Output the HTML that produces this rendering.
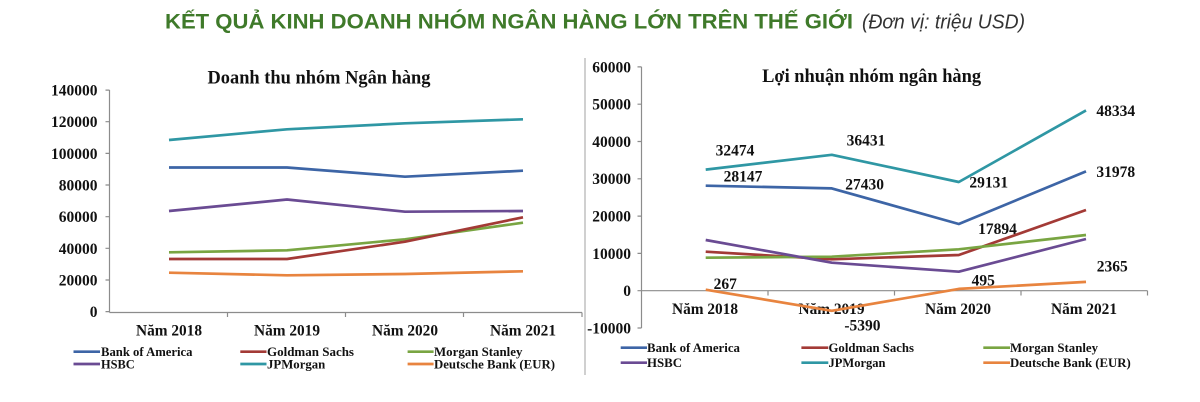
<!DOCTYPE html>
<html><head><meta charset="utf-8"><style>
html,body{margin:0;padding:0;background:#fff;}
svg{display:block;}
</style></head><body>
<svg width="1200" height="402" viewBox="0 0 1200 402" xmlns="http://www.w3.org/2000/svg">
<rect width="1200" height="402" fill="#fff"/>
<!-- Main title -->
<text x="165" y="28.5" font-family="Liberation Sans, sans-serif" font-weight="bold" font-size="21" fill="#3f7a2a" textLength="688" lengthAdjust="spacingAndGlyphs">KẾT QUẢ KINH DOANH NHÓM NGÂN HÀNG LỚN TRÊN THẾ GIỚI</text>
<text x="862" y="28.5" font-family="Liberation Sans, sans-serif" font-style="italic" font-size="20" fill="#333" textLength="163" lengthAdjust="spacingAndGlyphs">(Đơn vị: triệu USD)</text>

<!-- LEFT CHART -->
<g font-family="Liberation Serif, serif" font-weight="bold" fill="#111">
<text x="319" y="83.5" font-size="18.5" text-anchor="middle" textLength="223" lengthAdjust="spacingAndGlyphs">Doanh thu nhóm Ngân hàng</text>
<g font-size="15.5" text-anchor="end">
<text x="97.5" y="95.6">140000</text>
<text x="97.5" y="127.2">120000</text>
<text x="97.5" y="158.9">100000</text>
<text x="97.5" y="190.5">80000</text>
<text x="97.5" y="222.2">60000</text>
<text x="97.5" y="253.8">40000</text>
<text x="97.5" y="285.5">20000</text>
<text x="97.5" y="317.1">0</text>
</g>
<g font-size="16" text-anchor="middle">
<text x="169" y="335.5" textLength="66" lengthAdjust="spacingAndGlyphs">Năm 2018</text>
<text x="287" y="335.5" textLength="66" lengthAdjust="spacingAndGlyphs">Năm 2019</text>
<text x="405" y="335.5" textLength="66" lengthAdjust="spacingAndGlyphs">Năm 2020</text>
<text x="523" y="335.5" textLength="66" lengthAdjust="spacingAndGlyphs">Năm 2021</text>
</g>
<g font-size="13">
<text x="101" y="356" textLength="91.5" lengthAdjust="spacingAndGlyphs">Bank of America</text>
<text x="267" y="356" textLength="87" lengthAdjust="spacingAndGlyphs">Goldman Sachs</text>
<text x="434" y="356" textLength="88.4" lengthAdjust="spacingAndGlyphs">Morgan Stanley</text>
<text x="101" y="368.5" textLength="33.7" lengthAdjust="spacingAndGlyphs">HSBC</text>
<text x="267" y="368.5" textLength="58.3" lengthAdjust="spacingAndGlyphs">JPMorgan</text>
<text x="434" y="368.5" textLength="121" lengthAdjust="spacingAndGlyphs">Deutsche Bank (EUR)</text>
</g>
</g>
<g stroke="#8c8c8c" stroke-width="1.2" fill="none">
<line x1="109.5" y1="90" x2="109.5" y2="312.5"/>
<line x1="109.5" y1="312.5" x2="582" y2="312.5"/>
<path d="M105.5 90.1H109.5M105.5 121.7H109.5M105.5 153.4H109.5M105.5 185H109.5M105.5 216.7H109.5M105.5 248.3H109.5M105.5 280H109.5M105.5 311.6H109.5"/>
<path d="M227.5 312.5V317M345.5 312.5V317M463.5 312.5V317M582 312.5V317"/>
</g>
<g fill="none" stroke-width="2.7" stroke-linejoin="round">
<polyline stroke="#2f97a4" points="169,140 287,129.3 405,123.3 523,119.3"/>
<polyline stroke="#3d65a6" points="169,167.5 287,167.5 405,176.7 523,170.7"/>
<polyline stroke="#6a4b93" points="169,211 287,199.5 405,211.7 523,211"/>
<polyline stroke="#79a542" points="169,252.3 287,250.3 405,239.3 523,222.7"/>
<polyline stroke="#a33a36" points="169,259 287,259 405,241.7 523,217.3"/>
<polyline stroke="#e8843f" points="169,272.7 287,275.3 405,274 523,271.3"/>
</g>
<g stroke-width="2.7">
<line x1="73.5" y1="351.7" x2="100" y2="351.7" stroke="#3d65a6"/>
<line x1="240.3" y1="351.7" x2="266.5" y2="351.7" stroke="#a33a36"/>
<line x1="407.6" y1="351.7" x2="433.6" y2="351.7" stroke="#79a542"/>
<line x1="73.5" y1="364" x2="100" y2="364" stroke="#6a4b93"/>
<line x1="240.3" y1="364" x2="266.5" y2="364" stroke="#2f97a4"/>
<line x1="407.6" y1="364" x2="433.6" y2="364" stroke="#e8843f"/>
</g>

<!-- border of right image -->
<line x1="585" y1="58" x2="585" y2="375" stroke="#b0b0b0" stroke-width="1.2"/>

<!-- RIGHT CHART -->
<g font-family="Liberation Serif, serif" font-weight="bold" fill="#111">
<text x="871.6" y="82" font-size="18.5" text-anchor="middle" textLength="219" lengthAdjust="spacingAndGlyphs">Lợi nhuận nhóm ngân hàng</text>
<g font-size="15.5" text-anchor="end">
<text x="631" y="72.3">60000</text>
<text x="631" y="109.6">50000</text>
<text x="631" y="146.9">40000</text>
<text x="631" y="184.2">30000</text>
<text x="631" y="221.5">20000</text>
<text x="631" y="258.8">10000</text>
<text x="631" y="296.1">0</text>
<text x="631" y="333.4">-10000</text>
</g>
<g font-size="16" text-anchor="middle">
<text x="705" y="314" textLength="66" lengthAdjust="spacingAndGlyphs">Năm 2018</text>
<text x="831.5" y="314" textLength="66" lengthAdjust="spacingAndGlyphs">Năm 2019</text>
<text x="958" y="314" textLength="66" lengthAdjust="spacingAndGlyphs">Năm 2020</text>
<text x="1084" y="314" textLength="66" lengthAdjust="spacingAndGlyphs">Năm 2021</text>
</g>
<g font-size="15.5" text-anchor="middle">
<text x="735" y="155.5">32474</text>
<text x="866" y="145.5">36431</text>
<text x="988.7" y="187.5">29131</text>
<text x="1115.8" y="116.2">48334</text>
<text x="743" y="181.5">28147</text>
<text x="864.6" y="189.5">27430</text>
<text x="1115.8" y="177.2">31978</text>
<text x="997.5" y="233.8">17894</text>
<text x="725.3" y="288.8">267</text>
<text x="862.4" y="330.5">-5390</text>
<text x="983.3" y="285.5">495</text>
<text x="1112.3" y="271.5">2365</text>
</g>
<g font-size="13">
<text x="647" y="352" textLength="93" lengthAdjust="spacingAndGlyphs">Bank of America</text>
<text x="828.5" y="352" textLength="85.5" lengthAdjust="spacingAndGlyphs">Goldman Sachs</text>
<text x="1010" y="352" textLength="88" lengthAdjust="spacingAndGlyphs">Morgan Stanley</text>
<text x="647" y="367" textLength="35" lengthAdjust="spacingAndGlyphs">HSBC</text>
<text x="828.5" y="367" textLength="57" lengthAdjust="spacingAndGlyphs">JPMorgan</text>
<text x="1010" y="367" textLength="120.8" lengthAdjust="spacingAndGlyphs">Deutsche Bank (EUR)</text>
</g>
</g>
<g stroke="#8c8c8c" stroke-width="1.2" fill="none">
<line x1="641.5" y1="66.9" x2="641.5" y2="328"/>
<line x1="641.5" y1="290.7" x2="1147.5" y2="290.7"/>
<path d="M637.5 66.9H641.5M637.5 104.2H641.5M637.5 141.5H641.5M637.5 178.8H641.5M637.5 216.1H641.5M637.5 253.4H641.5M637.5 290.7H641.5M637.5 328H641.5"/>
<path d="M768 290.7V295.5M894.5 290.7V295.5M1021 290.7V295.5M1147.5 290.7V295.5"/>
</g>
<g fill="none" stroke-width="2.7" stroke-linejoin="round">
<polyline stroke="#2f97a4" points="705.7,169.6 831.8,154.8 958.8,182 1086,110.4"/>
<polyline stroke="#3d65a6" points="705.7,185.7 831.8,188.4 958.8,224 1086,171.4"/>
<polyline stroke="#a33a36" points="705.7,251.7 831.8,259.3 958.8,255 1086,210"/>
<polyline stroke="#79a542" points="705.7,257.7 831.8,256.7 958.8,249.3 1086,235"/>
<polyline stroke="#6a4b93" points="705.7,240 831.8,262.7 958.8,271.7 1086,239"/>
<polyline stroke="#e8843f" points="705.7,289.7 831.8,310.8 958.8,288.9 1086,281.9"/>
</g>
<g stroke-width="2.7">
<line x1="620.7" y1="347.7" x2="647" y2="347.7" stroke="#3d65a6"/>
<line x1="801.4" y1="347.7" x2="828.3" y2="347.7" stroke="#a33a36"/>
<line x1="983.3" y1="347.7" x2="1010" y2="347.7" stroke="#79a542"/>
<line x1="620.7" y1="362.7" x2="647" y2="362.7" stroke="#6a4b93"/>
<line x1="801.4" y1="362.7" x2="828.3" y2="362.7" stroke="#2f97a4"/>
<line x1="983.3" y1="362.7" x2="1010" y2="362.7" stroke="#e8843f"/>
</g>
</svg>
</body></html>
